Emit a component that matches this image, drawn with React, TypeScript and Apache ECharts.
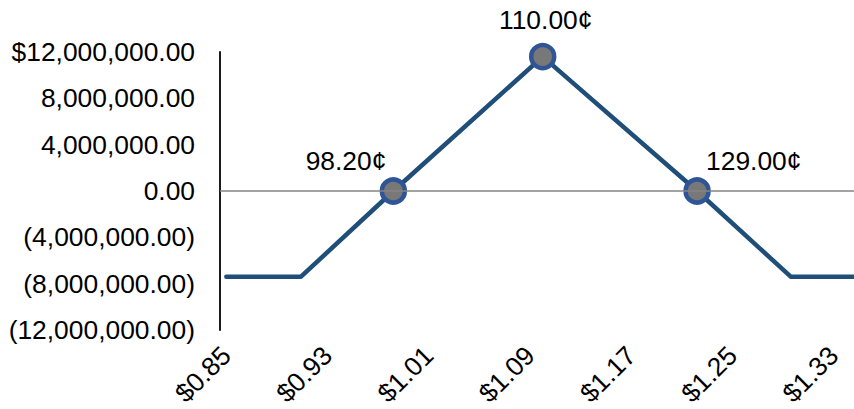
import React, { useEffect, useRef } from "react";
import * as echarts from "echarts";

const payoffPrices = [0.85, 0.909, 0.982, 1.1, 1.222, 1.296, 1.36];
const payoffValues = [-7.4e6, -7.4e6, 0, 11.6e6, 0, -7.4e6, -7.4e6];

const markerPrices = [0.982, 1.1, 1.222];
const markerValues = [0, 11.6e6, 0];
const markerLabels = ["98.20¢", "110.00¢", "129.00¢"];

const xTickValues = [0.85, 0.93, 1.01, 1.09, 1.17, 1.25, 1.33];
const xTickLabels = ["$0.85", "$0.93", "$1.01", "$1.09", "$1.17", "$1.25", "$1.33"];

const yTickValues = [-12e6, -8e6, -4e6, 0, 4e6, 8e6, 12e6];
const yTickLabels = [
  "(12,000,000.00)",
  "(8,000,000.00)",
  "(4,000,000.00)",
  "0.00",
  "4,000,000.00",
  "8,000,000.00",
  "$12,000,000.00",
];

const FONT = "'Liberation Sans', Arial, sans-serif";
const FS = 26.4;

export default function App() {
  const ref = useRef<HTMLDivElement>(null);
  useEffect(() => {
    if (!ref.current) return;
    const chart = echarts.init(ref.current, null, { renderer: "svg" });
    const labelCfg = [
      { align: "right", offset: [-7, -30] },
      { align: "center", offset: [3, -37] },
      { align: "left", offset: [9, -30] },
    ];
    chart.setOption({
      animation: false,
      backgroundColor: "#ffffff",
      grid: { left: 220, right: 0, top: 52, bottom: 78 },
      xAxis: {
        type: "value",
        min: 0.845,
        max: 1.346,
        splitLine: { show: false },
        axisLine: { show: false },
        axisTick: { show: false },
        axisLabel: {
          customValues: xTickValues,
          rotate: 45,
          margin: 21,
          fontSize: FS,
          fontFamily: FONT,
          color: "#000",
          formatter: (v: number) => {
            const i = xTickValues.findIndex((t) => Math.abs(t - v) < 1e-6);
            return i >= 0 ? xTickLabels[i] : "";
          },
        },
      },
      yAxis: {
        type: "value",
        min: -12e6,
        max: 12e6,
        interval: 4e6,
        splitLine: { show: false },
        axisTick: { show: false },
        axisLine: { show: true, lineStyle: { color: "#1a1a1a", width: 2 } },
        axisLabel: {
          margin: 25,
          fontSize: FS,
          fontFamily: FONT,
          color: "#000",
          formatter: (v: number) => {
            const i = yTickValues.findIndex((t) => Math.abs(t - v) < 1);
            return i >= 0 ? yTickLabels[i] : "";
          },
        },
      },
      series: [
        {
          type: "line",
          data: payoffPrices.map((p, i) => [p, payoffValues[i]]),
          showSymbol: false,
          symbol: "none",
          lineStyle: { color: "#1F4E79", width: 4.5, cap: "round", join: "round" },
          markLine: {
            silent: true,
            symbol: "none",
            label: { show: false },
            lineStyle: { color: "#858585", width: 1.5, type: "solid" },
            data: [{ yAxis: 0 }],
          },
          z: 2,
        },
        {
          type: "scatter",
          symbol: "circle",
          symbolSize: 23,
          itemStyle: { color: "#787878", borderColor: "#2F5597", borderWidth: 4.5, opacity: 1 },
          data: markerPrices.map((p, i) => ({
            value: [p, markerValues[i]],
            label: {
              show: true,
              position: "inside",
              formatter: markerLabels[i],
              align: labelCfg[i].align,
              verticalAlign: "middle",
              offset: labelCfg[i].offset,
              fontSize: FS,
              fontFamily: FONT,
              color: "#000",
            },
          })),
          z: 3,
        },
      ],
    });
    return () => chart.dispose();
  }, []);
  return (
    <div
      ref={ref}
      style={{ position: "absolute", left: 0, top: 0, width: 854, height: 409 }}
    />
  );
}
